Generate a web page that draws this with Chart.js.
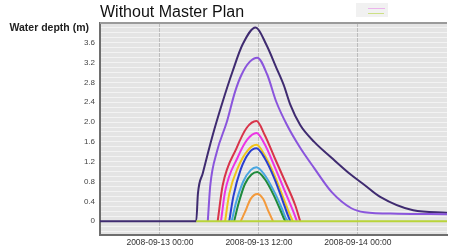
<!DOCTYPE html>
<html>
<head>
<meta charset="utf-8">
<script src="https://cdn.jsdelivr.net/npm/chart.js@4.4.1/dist/chart.umd.min.js"></script>
<style>
  html, body { margin: 0; padding: 0; background: #fff; }
  #wrap { width: 457px; height: 251px; }
</style>
</head>
<body>
<div id="wrap"><canvas id="depth-chart" width="457" height="251"></canvas></div>
<script>
// hours counted from 2008-09-13 00:00, depth in metres
const xTicks = [0, 12, 24];
const yLabelStep = 0.4;
const yLabelMax = 3.6;

const darkPurple = [[-7.3, 0], [4.4, 0], [4.6, 0.55], [5.2, 0.97], [6.4, 1.74], [7.6, 2.41], [8.8, 3.02], [10.0, 3.56], [11.6, 3.91], [12.9, 3.56], [14.1, 3.10], [15.0, 2.75], [15.8, 2.35], [17.0, 1.94], [18.7, 1.60], [20.8, 1.28], [23.2, 0.93], [24.8, 0.73], [26.7, 0.49], [30.7, 0.22], [34.8, 0.17]];
const lightPurple = [[5.8, 0], [6.1, 0.72], [6.9, 1.40], [8.1, 2.00], [9.1, 2.61], [9.9, 2.96], [10.9, 3.22], [11.8, 3.30], [13.0, 2.96], [14.1, 2.41], [15.4, 1.94], [17.0, 1.48], [18.7, 1.07], [20.8, 0.59], [23.2, 0.26], [24.8, 0.18], [28.8, 0.15], [34.8, 0.14]];
const red = [[7.0, 0], [7.6, 0.72], [9.3, 1.48], [10.5, 1.88], [11.7, 2.02], [12.7, 1.74], [13.9, 1.28], [15.2, 0.79], [16.4, 0.32], [17.0, 0]];
const magenta = [[7.4, 0], [7.9, 0.60], [9.4, 1.28], [10.6, 1.65], [11.7, 1.78], [12.7, 1.55], [13.9, 1.10], [15.1, 0.62], [16.1, 0.22], [16.6, 0]];
const yellow = [[7.9, 0], [8.4, 0.55], [9.5, 1.10], [10.6, 1.42], [11.7, 1.54], [12.7, 1.33], [13.9, 0.92], [15.0, 0.45], [15.7, 0.15], [16.1, 0]];
const blue = [[8.4, 0], [8.9, 0.50], [9.8, 1.05], [10.8, 1.38], [11.7, 1.47], [12.7, 1.27], [13.9, 0.85], [14.9, 0.40], [15.5, 0.12], [15.8, 0]];
const cyan = [[8.7, 0], [9.2, 0.36], [10.1, 0.80], [11.0, 1.03], [11.7, 1.09], [12.7, 0.93], [13.9, 0.58], [14.8, 0.25], [15.2, 0.08], [15.5, 0]];
const green = [[9.0, 0], [9.5, 0.34], [10.3, 0.75], [11.1, 0.94], [11.8, 0.99], [12.7, 0.85], [13.8, 0.52], [14.6, 0.22], [15.0, 0.06], [15.2, 0]];
const orange = [[9.8, 0], [10.3, 0.18], [11.0, 0.45], [11.8, 0.55], [12.5, 0.45], [13.2, 0.18], [13.7, 0]];
const lime = [[4.4, 0], [34.8, 0]];

function toPoints(arr) {
    return arr.map(p => ({ x: p[0], y: p[1] }));
}

function line(data, color) {
    return {
        data: toPoints(data),
        borderColor: color,
        borderWidth: 2,
        pointRadius: 0,
        fill: false,
        cubicInterpolationMode: 'monotone'
    };
}

function hourLabel(h) {
    const day = 13 + Math.floor(h / 24);
    const hh = String(h % 24).padStart(2, '0');
    return `2008-09-${day} ${hh}:00`;
}

// grey plot background, top border, title and y title
const decor = {
    id: 'decor',
    beforeDraw(chart) {
        const { ctx, chartArea: a } = chart;
        ctx.save();
        ctx.fillStyle = '#e4e4e4';
        ctx.fillRect(a.left, a.top, a.right - a.left, a.bottom - a.top);
        ctx.restore();
    },
    afterDraw(chart) {
        const { ctx, chartArea: a } = chart;
        ctx.save();
        ctx.strokeStyle = '#9a9a9a';
        ctx.lineWidth = 2;
        ctx.beginPath();
        ctx.moveTo(a.left, a.top);
        ctx.lineTo(a.right, a.top);
        ctx.stroke();

        ctx.fillStyle = '#111';
        ctx.font = '16px "Liberation Sans", Arial, sans-serif';
        ctx.textBaseline = 'alphabetic';
        ctx.textAlign = 'left';
        ctx.fillText('Without Master Plan', a.left, 17);

        ctx.font = 'bold 10.5px "Liberation Sans", Arial, sans-serif';
        ctx.fillStyle = '#222';
        ctx.textAlign = 'right';
        ctx.textBaseline = 'middle';
        ctx.fillText('Water depth (m)', 89, 28);

        // faint little legend thumbnail at top right
        ctx.fillStyle = '#f1f1f1';
        ctx.fillRect(356, 3, 32, 14);
        ctx.lineWidth = 1;
        ctx.strokeStyle = 'rgba(230,120,230,0.5)';
        ctx.beginPath(); ctx.moveTo(368, 8.5); ctx.lineTo(385, 8.5); ctx.stroke();
        ctx.strokeStyle = 'rgba(180,214,60,0.6)';
        ctx.beginPath(); ctx.moveTo(368, 13.5); ctx.lineTo(384, 13.5); ctx.stroke();
        ctx.restore();
    }
};

const ctx = document.getElementById('depth-chart').getContext('2d');
new Chart(ctx, {
    type: 'line',
    data: {
        datasets: [
            line(lime, '#b9d43a'),
            line(orange, '#f39a3c'),
            line(green, '#1e8a3c'),
            line(cyan, '#48a6e0'),
            line(blue, '#2b3fcf'),
            line(yellow, '#f0c41c'),
            line(magenta, '#ec34e4'),
            line(red, '#d8344a'),
            line(lightPurple, '#8a55dc'),
            line(darkPurple, '#3f2b70')
        ]
    },
    plugins: [decor],
    options: {
        responsive: false,
        animation: false,
        devicePixelRatio: 1,
        layout: { padding: { top: 23, right: 10, left: 0, bottom: 0 } },
        plugins: {
            legend: { display: false },
            title: { display: false },
            tooltip: { enabled: false }
        },
        scales: {
            x: {
                type: 'linear',
                min: -7.27,
                max: 34.8,
                afterBuildTicks: (scale) => {
                    scale.ticks = xTicks.map(v => ({ value: v }));
                },
                afterFit: (scale) => { scale.height = 16; },
                ticks: {
                    callback: (v) => hourLabel(v),
                    color: '#333',
                    font: { size: 8.5, family: '"Liberation Sans", Arial, sans-serif' },
                    padding: 3,
                    maxRotation: 0,
                    autoSkip: false
                },
                grid: { color: '#bdbdbd', lineWidth: 1, drawTicks: false },
                border: { display: true, color: '#6e6e6e', width: 2 }
            },
            y: {
                min: -0.28,
                max: 4.0,
                afterBuildTicks: (scale) => {
                    const t = [];
                    for (let i = -2; i <= 40; i++) t.push({ value: i / 10 });
                    scale.ticks = t;
                },
                afterFit: (scale) => { scale.width = 100; },
                ticks: {
                    callback: (v) => {
                        const k = v / yLabelStep;
                        if (v < 0 || v > yLabelMax + 1e-6 || Math.abs(k - Math.round(k)) > 1e-6) return '';
                        return v === 0 ? '0' : v.toFixed(1);
                    },
                    color: '#444',
                    font: { size: 8, family: '"Liberation Sans", Arial, sans-serif' },
                    padding: 5,
                    autoSkip: false
                },
                grid: { color: '#f3f3f3', lineWidth: 1, drawTicks: false },
                border: { display: true, color: '#6e6e6e', width: 2 }
            }
        }
    }
});
</script>
</body>
</html>
